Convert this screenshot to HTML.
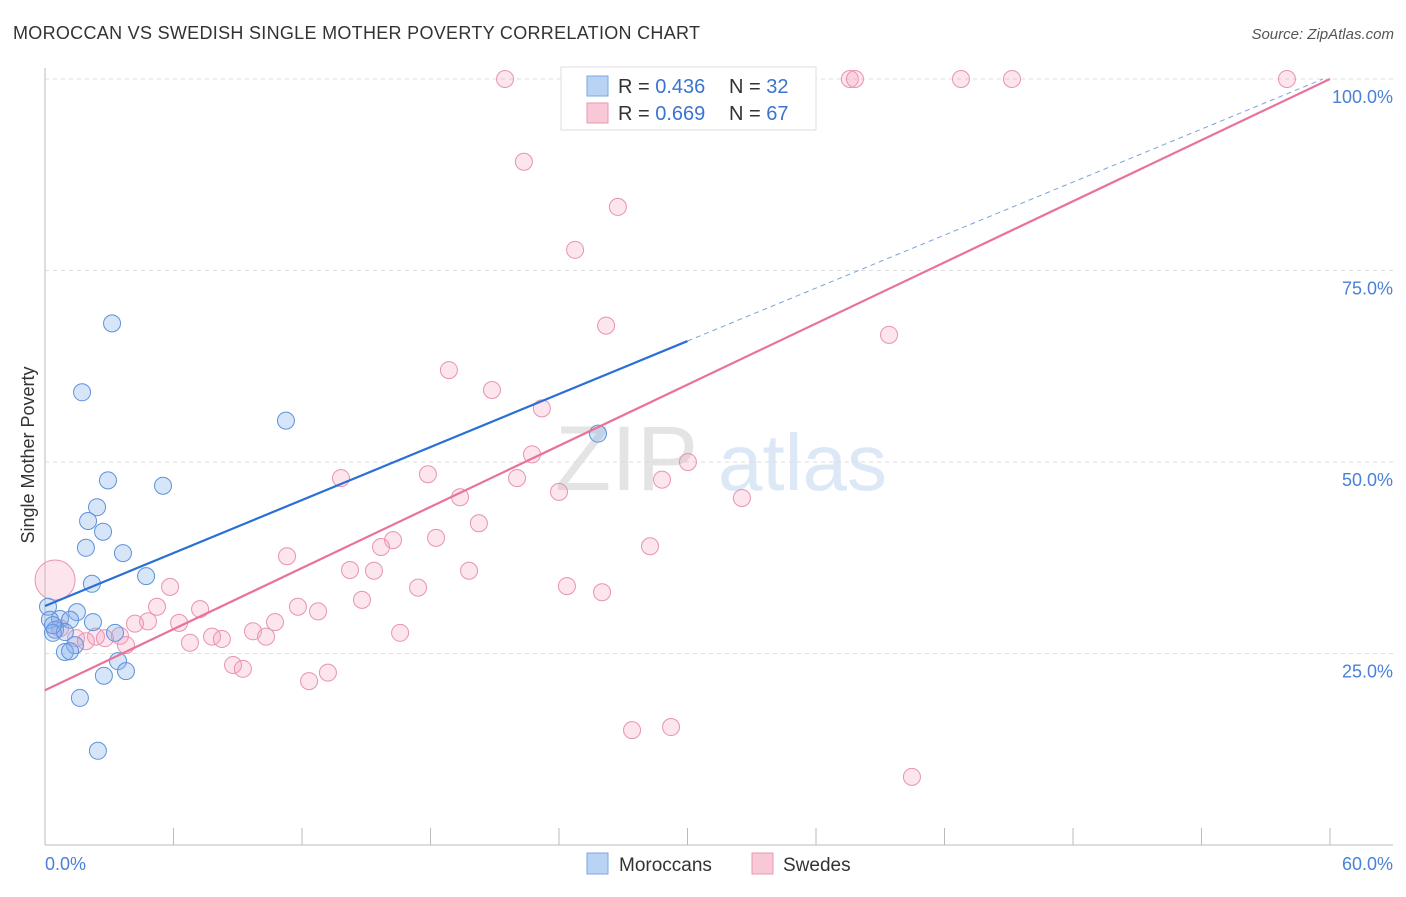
<!DOCTYPE html>
<html><head><meta charset="utf-8"><style>
body{margin:0;background:#fff;width:1406px;height:892px;overflow:hidden;font-family:"Liberation Sans",sans-serif;}
svg text{font-family:"Liberation Sans",sans-serif;}
</style></head><body>
<svg id="chart" width="1406" height="892" xmlns="http://www.w3.org/2000/svg">
<text x="13" y="39" font-size="18" fill="#333" textLength="687" lengthAdjust="spacing">MOROCCAN VS SWEDISH SINGLE MOTHER POVERTY CORRELATION CHART</text>
<text x="1394" y="39" font-size="15" fill="#555" text-anchor="end" font-style="italic">Source: ZipAtlas.com</text>
<text x="555" y="490" font-size="92" fill="#e4e4e4" font-family="Liberation Serif">ZIP</text>
<text x="718" y="490" font-size="80" fill="#dce8f6">atlas</text>
<g id="grid"></g>
<g id="marks"></g>
<text transform="translate(34,455) rotate(-90)" font-size="18" fill="#333" text-anchor="middle">Single Mother Poverty</text>
<g>
<rect x="561" y="67" width="255" height="63" fill="#fff" stroke="#ddd"/>
<rect x="587" y="76" width="21" height="20" fill="#b9d3f5" stroke="#7aa7e3"/>
<rect x="587" y="103" width="21" height="20" fill="#f9c8d7" stroke="#ea97b2"/>
<text x="618" y="93" font-size="20" fill="#333">R = <tspan fill="#3b74d0">0.436</tspan></text>
<text x="729" y="93" font-size="20" fill="#333">N = <tspan fill="#3b74d0">32</tspan></text>
<text x="618" y="120" font-size="20" fill="#333">R = <tspan fill="#3b74d0">0.669</tspan></text>
<text x="729" y="120" font-size="20" fill="#333">N = <tspan fill="#3b74d0">67</tspan></text>
</g>
<g>
<rect x="587" y="853" width="21" height="21" fill="#b9d3f5" stroke="#7aa7e3"/>
<text x="619" y="871" font-size="19" fill="#333">Moroccans</text>
<rect x="752" y="853" width="21" height="21" fill="#f9c8d7" stroke="#ea97b2"/>
<text x="783" y="871" font-size="19" fill="#333">Swedes</text>
</g>
</svg>
<script>
const yTicks=[25,50,75,100];
const yTickLabels=["25.0%","50.0%","75.0%","100.0%"];
const xTickLabels=["0.0%","60.0%"];
const blueX=[3.13,1.73,11.25,25.82,2.94,5.51,2.43,2.01,2.71,1.91,3.64,4.72,2.19,0.14,1.49,0.70,0.23,1.17,2.24,0.47,0.37,0.93,3.27,1.40,0.93,1.17,3.41,3.78,2.75,1.63,2.47,0.37];
const blueY=[68.1,59.1,55.4,53.7,47.6,46.9,44.1,42.3,40.9,38.8,38.1,35.1,34.1,31.1,30.4,29.5,29.4,29.4,29.1,28.1,27.7,27.8,27.7,26.1,25.2,25.3,24.0,22.7,22.1,19.2,12.3,28.7];
const pinkX=[21.48,31.10,37.58,37.82,42.77,45.15,57.99,22.36,26.75,24.75,26.20,39.41,18.86,20.87,23.20,22.74,30.02,17.88,13.82,22.04,28.81,24.00,19.38,32.54,20.26,18.26,16.25,15.69,28.25,11.30,5.84,14.24,15.36,19.80,24.37,26.01,14.80,17.42,5.23,11.81,12.75,7.24,4.81,6.26,10.74,4.20,0.70,9.71,16.58,7.80,8.26,10.32,2.38,3.50,2.80,1.45,1.91,3.78,6.77,8.78,9.24,13.21,12.33,27.41,29.23,40.48,0.47];
const pinkY=[100,100,100,100,100,100,100,89.2,83.3,77.7,67.8,66.6,62.0,59.4,57.0,51.0,50.0,48.4,47.9,47.9,47.7,46.1,45.4,45.3,42.0,40.1,39.8,38.9,39.0,37.7,33.7,35.9,35.8,35.8,33.8,33.0,32.0,33.6,31.1,31.1,30.5,30.8,29.2,29.0,29.1,28.9,28.3,27.9,27.7,27.2,26.9,27.2,27.2,27.3,27.0,27.0,26.6,26.1,26.4,23.5,23.0,22.5,21.4,15.0,15.4,8.9,34.6];
const blueFit=[31.2,1.153];
const pinkFit=[20.2,1.33];
const X=v=>45+v/60*1285;
const Y=v=>845-v*7.66;
const NS="http://www.w3.org/2000/svg";
const grid=document.getElementById('grid'),marks=document.getElementById('marks');
function mk(tag,attrs,parent){const e=document.createElementNS(NS,tag);for(const k in attrs)e.setAttribute(k,attrs[k]);parent.appendChild(e);return e;}
let ax=mk('line',{x1:45,y1:68,x2:45,y2:845,stroke:'#bbb'},grid);


let bx=mk('line',{x1:45,y1:845,x2:1393,y2:845,stroke:'#bbb'},grid);


yTicks.forEach((t,i)=>{
 const g=mk('line',{x1:45,y1:Y(t),x2:1393,y2:Y(t),stroke:'#ddd','stroke-dasharray':'4,4'},grid);
 
 
 const tx=mk('text',{x:1393,y:Y(t)+24,'font-size':18,fill:'#4a80d6','text-anchor':'end'},grid);
 tx.textContent=yTickLabels[i];
 
 
});
for(let i=0;i<=10;i++){
 const tk=mk('line',{x1:X(i*6),y1:828,x2:X(i*6),y2:845,stroke:'#bbb'},grid);
 
 
}
[[0,45,'start'],[60,1393,'end']].forEach((d,i)=>{
 const tx=mk('text',{x:d[1],y:870,'font-size':18,fill:'#4a80d6','text-anchor':d[2]},grid);
 tx.textContent=xTickLabels[i];
 
 
});
pinkX.forEach((x,i)=>{
 const big=i===pinkX.length-1;
 const c=mk('circle',{cx:X(x),cy:Y(pinkY[i]),r:big?20:8.5,fill:'rgba(244,160,190,0.28)',stroke:'#e893b0','stroke-width':1},marks);
 
 
});
blueX.forEach((x,i)=>{
 const c=mk('circle',{cx:X(x),cy:Y(blueY[i]),r:8.5,fill:'rgba(130,175,235,0.32)',stroke:'#5e92da','stroke-width':1},marks);
 
 
});
const bEnd=(100-blueFit[0])/blueFit[1];
let l1=mk('line',{x1:X(0),y1:Y(blueFit[0]),x2:X(30),y2:Y(blueFit[0]+blueFit[1]*30),stroke:'#2a6fd6','stroke-width':2.2},marks);


let l2=mk('line',{x1:X(30),y1:Y(blueFit[0]+blueFit[1]*30),x2:X(bEnd),y2:Y(100),stroke:'#7aa2dc','stroke-width':1,'stroke-dasharray':'5,4'},marks);


let l3=mk('line',{x1:X(0),y1:Y(pinkFit[0]),x2:X(60),y2:Y(pinkFit[0]+pinkFit[1]*60),stroke:'#e8729a','stroke-width':2.2},marks);


</script>
</body></html>
